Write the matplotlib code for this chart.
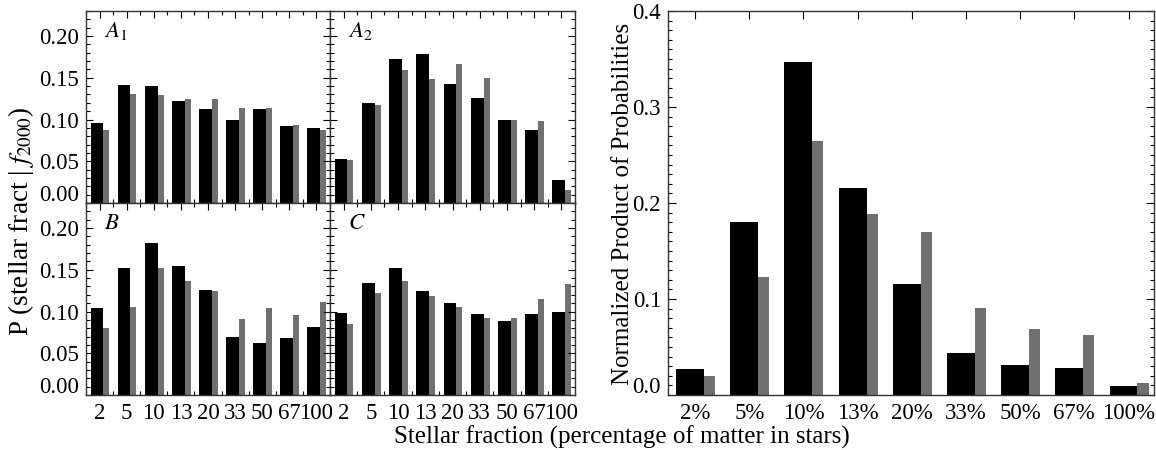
import numpy as np
import matplotlib.pyplot as plt
from matplotlib.ticker import MultipleLocator
from matplotlib.transforms import ScaledTranslation

plt.rcParams['font.family'] = ['Liberation Serif', 'DejaVu Serif']
plt.rcParams['mathtext.fontset'] = 'stix'

# stellar fraction categories
fractions = ['2', '5', '10', '13', '20', '33', '50', '67', '100']
fractions_pct = ['2%', '5%', '10%', '13%', '20%', '33%', '50%', '67%', '100%']

# P(stellar fract | f2000) for the four cases (black / gray bars)
a1_black = [0.096, 0.141, 0.140, 0.122, 0.113, 0.099, 0.113, 0.092, 0.090]
a1_gray = [0.088, 0.130, 0.129, 0.125, 0.125, 0.114, 0.114, 0.093, 0.087]
a2_black = [0.053, 0.120, 0.173, 0.178, 0.142, 0.126, 0.099, 0.088, 0.027]
a2_gray = [0.051, 0.117, 0.159, 0.149, 0.166, 0.150, 0.100, 0.098, 0.016]
b_black = [0.104, 0.152, 0.182, 0.155, 0.126, 0.070, 0.062, 0.068, 0.082]
b_gray = [0.080, 0.106, 0.152, 0.137, 0.124, 0.091, 0.104, 0.096, 0.112]
c_black = [0.098, 0.134, 0.152, 0.124, 0.110, 0.097, 0.089, 0.097, 0.100]
c_gray = [0.085, 0.122, 0.136, 0.118, 0.106, 0.092, 0.092, 0.115, 0.133]

# normalized product of probabilities
prod_black = [0.027, 0.180, 0.347, 0.216, 0.116, 0.044, 0.031, 0.028, 0.009]
prod_gray = [0.020, 0.123, 0.265, 0.189, 0.170, 0.091, 0.069, 0.063, 0.013]

GRAY = '#707070'
FS = 16.5   # tick labels
LFS = 18    # axis titles
W, H = 1156, 450


def shift_bottom_label(fig, ax, dy):
    # IDL style: lowest y label sits a bit above the axis
    lab = ax.get_yticklabels()[0]
    lab.set_transform(lab.get_transform() + ScaledTranslation(0, dy / 72., fig.dpi_scale_trans))


def small_panel(fig, rect, black, gray, name, show_x, show_y):
    ax = fig.add_axes(rect)
    x = np.arange(len(black))
    ax.bar(x - 0.33, black, width=0.47, align='edge', color='black', linewidth=0)
    ax.bar(x + 0.14, gray, width=0.22, align='edge', color=GRAY, linewidth=0)
    ax.set_xlim(-0.5, 8.5)
    ax.set_ylim(0, 0.23)
    ax.set_xticks(x)
    ax.xaxis.set_minor_locator(MultipleLocator(0.5))
    ax.set_yticks([0, 0.05, 0.10, 0.15, 0.20])
    ax.yaxis.set_minor_locator(MultipleLocator(0.01))
    ax.tick_params(which='both', direction='in', top=True, right=True, labelsize=FS, width=0.8)
    ax.tick_params(which='major', length=5)
    ax.tick_params(which='minor', length=3)
    ax.tick_params(axis='x', pad=6)
    ax.tick_params(axis='y', pad=5)
    if show_x:
        ax.set_xticklabels(fractions)
    else:
        ax.set_xticklabels([])
    if show_y:
        ax.set_yticklabels(['0.00', '0.05', '0.10', '0.15', '0.20'])
        shift_bottom_label(fig, ax, 7)
    else:
        ax.set_yticklabels([])
    for s in ax.spines.values():
        s.set_color('#333333')
        s.set_linewidth(1.0)
    ax.text(0.075, 0.895, name, transform=ax.transAxes, fontsize=FS, va='center', ha='left')
    return ax


fig = plt.figure(figsize=(W / 100., H / 100.), dpi=100)

x0, xm, x1 = 86 / W, 330 / W, 575 / W
yt, ym, yb = 1 - 11 / H, 1 - 203 / H, 1 - 395 / H
small_panel(fig, [x0, ym, xm - x0, yt - ym], a1_black, a1_gray, '$A_1$', False, True)
small_panel(fig, [xm, ym, x1 - xm, yt - ym], a2_black, a2_gray, '$A_2$', False, False)
small_panel(fig, [x0, yb, xm - x0, ym - yb], b_black, b_gray, '$B$', True, True)
small_panel(fig, [xm, yb, x1 - xm, ym - yb], c_black, c_gray, '$C$', True, False)

fig.text(21 / W, 1 - 221 / H, 'P (stellar fract | $f_{2000}$)', rotation=90,
         fontsize=19.5, ha='center', va='center')

# right panel
r0, r1 = 668 / W, 1154 / W
ax = fig.add_axes([r0, yb, r1 - r0, yt - yb])
x = np.arange(len(prod_black))
ax.bar(x - 0.35, prod_black, width=0.515, align='edge', color='black', linewidth=0)
ax.bar(x + 0.165, prod_gray, width=0.205, align='edge', color=GRAY, linewidth=0)
ax.set_xlim(-0.5, 8.47)
ax.set_ylim(0, 0.4)
ax.set_xticks(x)
ax.set_xticklabels(fractions_pct)
ax.set_yticks([0, 0.1, 0.2, 0.3, 0.4])
ax.set_yticklabels(['0.0', '0.1', '0.2', '0.3', '0.4'])
ax.yaxis.set_minor_locator(MultipleLocator(0.01))
ax.tick_params(which='both', direction='in', top=True, right=True, labelsize=FS, width=0.8)
ax.tick_params(which='major', length=6)
ax.tick_params(which='minor', length=3)
ax.tick_params(axis='x', pad=6)
ax.tick_params(axis='y', pad=5)
shift_bottom_label(fig, ax, 7)
for s in ax.spines.values():
    s.set_color('#333333')
    s.set_linewidth(1.0)
fig.text(623 / W, 1 - 204 / H, 'Normalized Product of Probabilities', rotation=90,
         fontsize=LFS, ha='center', va='center')

fig.text(622 / W, 1 - 437 / H, 'Stellar fraction (percentage of matter in stars)',
         fontsize=LFS, ha='center', va='center')

plt.savefig('out.png', dpi=100)
